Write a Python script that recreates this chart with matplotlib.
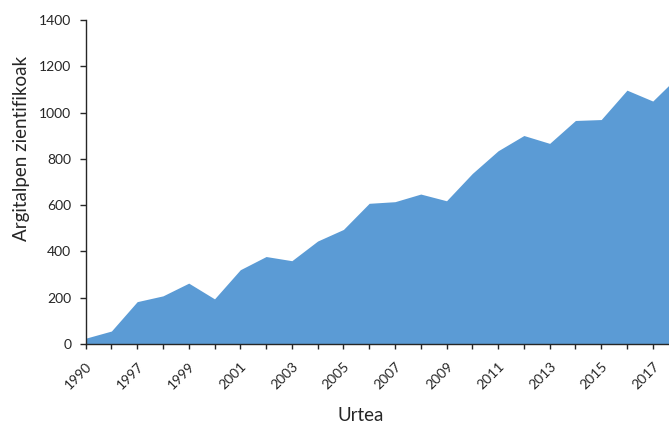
import numpy as np
import matplotlib.pyplot as plt
from matplotlib.transforms import ScaledTranslation

plt.rcParams['font.family'] = ['Lato', 'DejaVu Sans']

years = ["1990", "1996", "1997", "1998", "1999", "2000", "2001", "2002",
         "2003", "2004", "2005", "2006", "2007", "2008", "2009", "2010",
         "2011", "2012", "2013", "2014", "2015", "2016", "2017", "2018"]
articles = [25, 56, 183, 208, 263, 195, 321, 378,
            360, 445, 495, 608, 615, 648, 619, 737,
            835, 901, 867, 966, 970, 1097, 1050, 1159]

x = np.arange(len(years))

fig = plt.figure(figsize=(6.69, 4.24), dpi=100)
ax = fig.add_axes([0.128, 0.1887, 0.872, 0.764])

ax.fill_between(x, articles, 0, color="#5B9BD5", linewidth=0)

ax.set_xticks(x)
ax.set_xticklabels([y if i % 2 == 0 else "" for i, y in enumerate(years)],
                   rotation=45, ha="right", va="center",
                   rotation_mode="anchor", fontsize=10, color="#262626")
ax.set_yticks(np.arange(0, 1401, 200))
# limits after the ticks, so the cut-off right edge stays
ax.set_xlim(0, 22.63)
ax.set_ylim(0, 1400)

ax.tick_params(axis="y", labelsize=10, length=4.3, width=1, color="#262626",
               labelcolor="#262626", pad=6)
ax.tick_params(axis="x", length=3.6, width=1, color="#262626", pad=11)

# nudge the rotated year labels a little to the right
shift = ScaledTranslation(3 / 72, 0, fig.dpi_scale_trans)
for lbl in ax.get_xticklabels():
    lbl.set_transform(lbl.get_transform() + shift)

for s in ["top", "right"]:
    ax.spines[s].set_visible(False)
for s in ["left", "bottom"]:
    ax.spines[s].set_color("#262626")
    ax.spines[s].set_linewidth(1)

ax.set_xlabel("Urtea", fontsize=13.5, color="#262626", va="baseline")
ax.set_ylabel("Argitalpen zientifikoak", fontsize=13.5, color="#262626")
ax.xaxis.set_label_coords(0.471, -0.238)
ax.yaxis.set_label_coords(-0.095, 0.605)

fig.savefig("out.png", dpi=100)
